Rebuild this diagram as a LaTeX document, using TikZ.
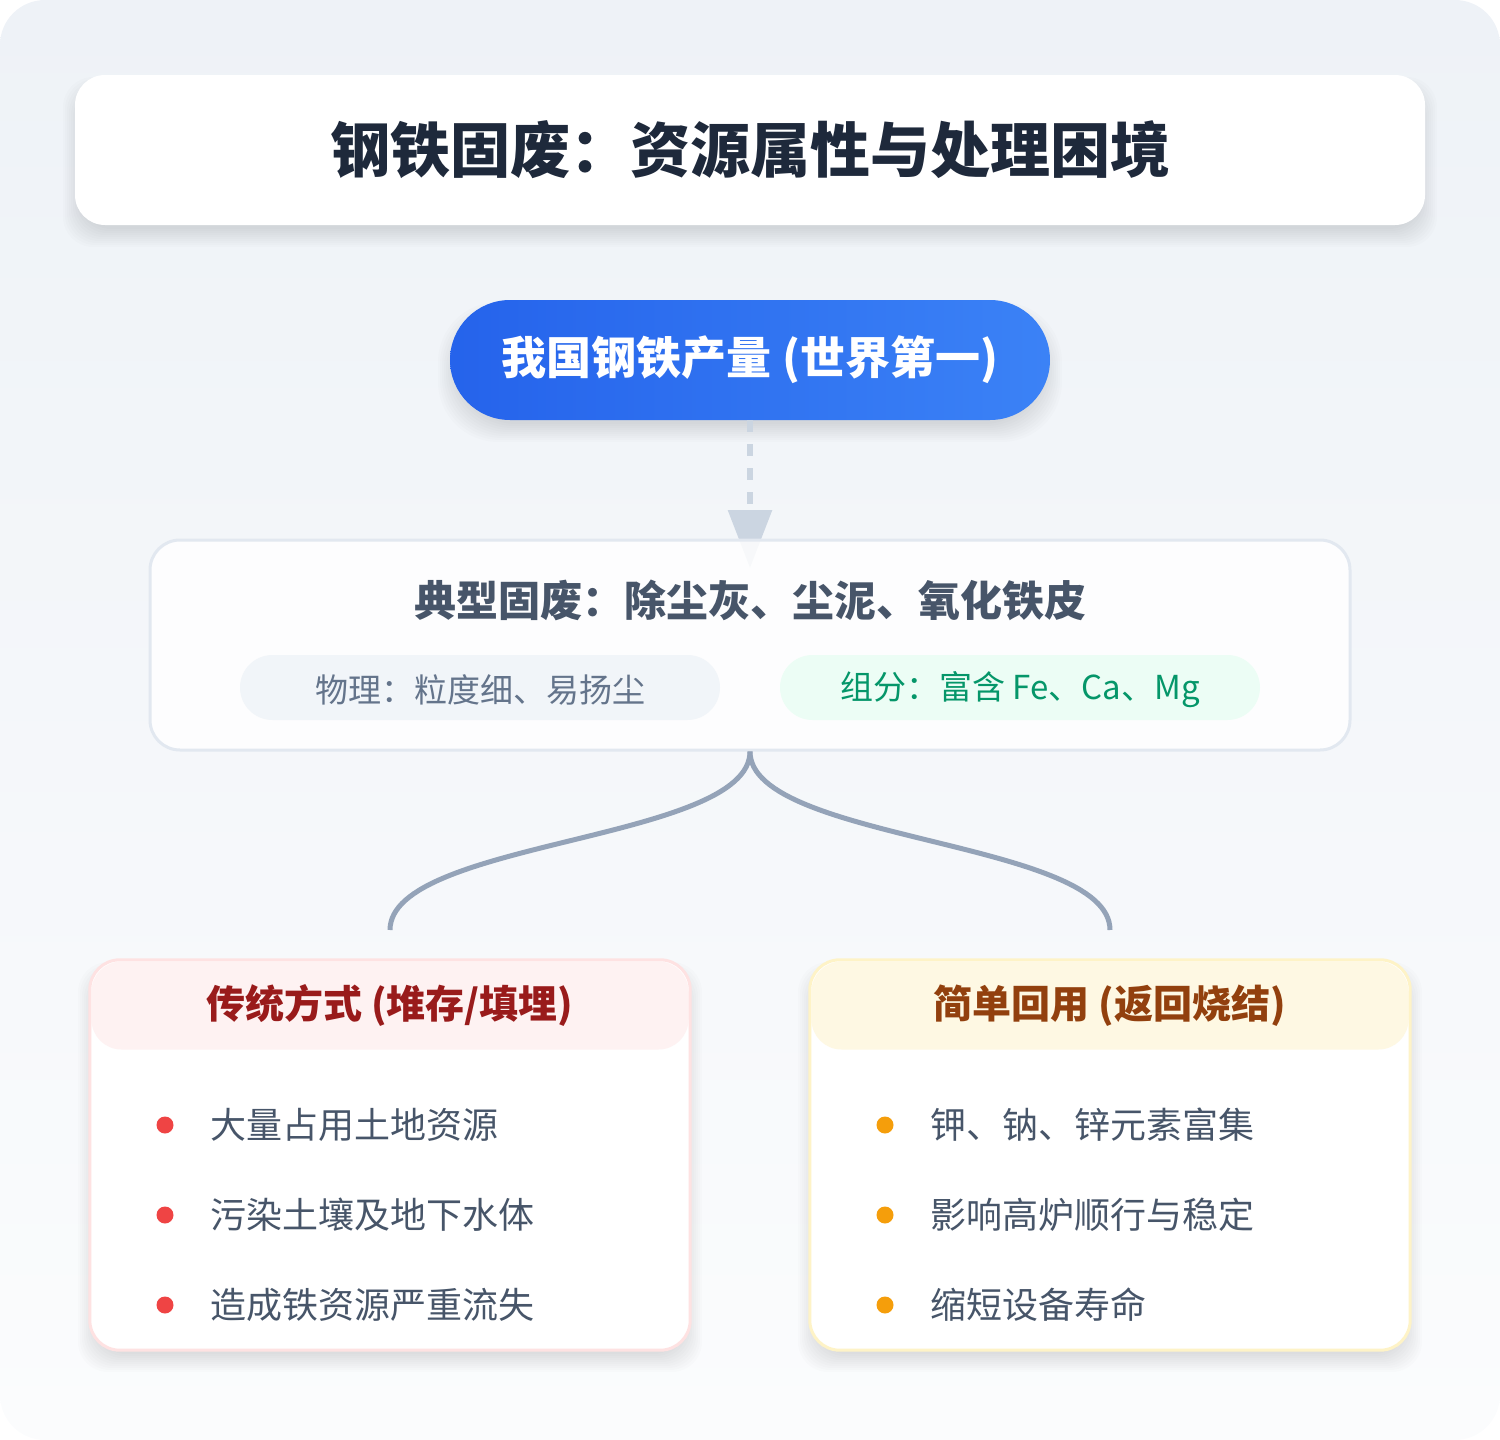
\documentclass[tikz,border=0pt]{standalone}
\usepackage{fontspec}
\setmainfont{Noto Sans CJK SC}
\usetikzlibrary{arrows.meta}
\definecolor{bgtop}{HTML}{EEF2F7}
\definecolor{bgbot}{HTML}{FBFCFD}
\definecolor{titletxt}{HTML}{1E293B}
\definecolor{blueA}{HTML}{2563EB}
\definecolor{blueB}{HTML}{3B82F6}
\definecolor{midtxt}{HTML}{475569}
\definecolor{midborder}{HTML}{E2E8F0}
\definecolor{phystxt}{HTML}{64748B}
\definecolor{physfill}{HTML}{F1F5F9}
\definecolor{comptxt}{HTML}{059669}
\definecolor{compfill}{HTML}{ECFDF5}
\definecolor{branchcol}{HTML}{94A3B8}
\definecolor{arrowcol}{HTML}{CBD5E1}
\definecolor{redborder}{HTML}{FEE2E2}
\definecolor{redfill}{HTML}{FEF2F2}
\definecolor{redtxt}{HTML}{991B1B}
\definecolor{reddot}{HTML}{EF4444}
\definecolor{ambborder}{HTML}{FEF3C7}
\definecolor{ambfill}{HTML}{FEF8E3}
\definecolor{ambtxt}{HTML}{92400E}
\definecolor{ambdot}{HTML}{F59E0B}
\newcommand\mysoftshadow[5]{%
  \foreach \k in {0,2,...,18}{%
    \fill[black,opacity=0.011,rounded corners=#5]
      (#1-12+\k,#2+2+\k) rectangle (#3+12-\k,#4+22-\k);
  }}
\tikzset{
  card/.style={inner sep=0pt, rounded corners=30pt},
  titlecard/.style={card, fill=white, minimum width=1350pt, minimum height=150pt,
    text=titletxt, font=\fontsize{60}{72}\selectfont\bfseries},
  srcpill/.style={inner sep=0pt, rounded corners=60pt, minimum width=600pt, minimum height=120pt,
    left color=blueA, right color=blueB, text=white, font=\fontsize{45}{54}\selectfont\bfseries},
  midbox/.style={card, draw=midborder, line width=3pt, fill=white, fill opacity=0.85,
    minimum width=1200pt, minimum height=210pt},
  midhead/.style={inner sep=0pt, text=midtxt, font=\fontsize{42}{50}\selectfont\bfseries},
  subpill/.style={inner sep=0pt, rounded corners=32.5pt, minimum width=480pt, minimum height=65pt},
  subtext/.style={inner sep=0pt, font=\fontsize{33}{40}\selectfont},
  dashline/.style={draw=arrowcol, line width=6pt, dash pattern=on 12pt off 12pt,
    -{Triangle[length=58pt,width=43pt]}},
  branch/.style={draw=branchcol, line width=5pt},
  bigcard/.style={card, fill=white, minimum width=600pt, minimum height=390pt},
  headband/.style={card, minimum width=597pt, minimum height=88pt, font=\fontsize{39}{46}\selectfont\bfseries},
  dot/.style={circle, inner sep=0pt, minimum size=17pt},
  item/.style={inner sep=0pt, anchor=west, text=midtxt, font=\fontsize{36}{44}\selectfont},
}
\begin{document}
\begin{tikzpicture}[x=1pt,y=-1pt]
\useasboundingbox (0,0) rectangle (1500,1440);
% background
\shade[top color=bgtop, bottom color=bgbot, rounded corners=45pt] (0,0) rectangle (1500,1440);
% shadows
\mysoftshadow{75}{75}{1425}{225}{30pt}
\mysoftshadow{450}{300}{1050}{420}{60pt}
\mysoftshadow{90}{960}{690}{1350}{30pt}
\mysoftshadow{810}{960}{1410}{1350}{30pt}
% title
\node[titlecard] (title) at (750,150) {钢铁固废：资源属性与处理困境};
% source pill
\node[srcpill] (src) at (750,360) {我国钢铁产量 (世界第一)};
% arrow
\coordinate (arrowend) at (750,568);
\draw[dashline] (src.south) -- (arrowend);
% middle box
\node[midbox] (mid) at (750,645) {};
\node[midhead] (midh) at (750,600) {典型固废：除尘灰、尘泥、氧化铁皮};
\node[subpill, fill=physfill] (phys) at (480,687.5) {};
\node[subtext, text=phystxt] (physt) at (480,690) {物理：粒度细、易扬尘};
\node[subpill, fill=compfill] (comp) at (1020,687.5) {};
\node[subtext, text=comptxt] (compt) at (1020,690) {组分：富含 Fe、Ca、Mg};
% branches
\coordinate (ltop) at (390,930);
\coordinate (rtop) at (1110,930);
\draw[branch] (mid.south) .. controls ([yshift=-90pt]mid.south) and ([yshift=90pt]ltop) .. (ltop);
\draw[branch] (mid.south) .. controls ([yshift=-90pt]mid.south) and ([yshift=90pt]rtop) .. (rtop);
% left card
\node[bigcard] (lcard) at (390,1155) {};
\node[headband, fill=redfill, text=redtxt] (lhead) at (390,1005.5) {传统方式 (堆存/填埋)};
\draw[redborder, line width=3pt, rounded corners=30pt] (lcard.south west) rectangle (lcard.north east);
\node[dot, fill=reddot] (l1) at (165,1125) {};
\node[dot, fill=reddot] (l2) at (165,1215) {};
\node[dot, fill=reddot] (l3) at (165,1305) {};
\node[item] (l1t) at (210,1125) {大量占用土地资源};
\node[item] (l2t) at (210,1215) {污染土壤及地下水体};
\node[item] (l3t) at (210,1305) {造成铁资源严重流失};
% right card
\node[bigcard] (rcard) at (1110,1155) {};
\node[headband, fill=ambfill, text=ambtxt] (rhead) at (1110,1005.5) {简单回用 (返回烧结)};
\draw[ambborder, line width=3pt, rounded corners=30pt] (rcard.south west) rectangle (rcard.north east);
\node[dot, fill=ambdot] (r1) at (885,1125) {};
\node[dot, fill=ambdot] (r2) at (885,1215) {};
\node[dot, fill=ambdot] (r3) at (885,1305) {};
\node[item] (r1t) at (930,1125) {钾、钠、锌元素富集};
\node[item] (r2t) at (930,1215) {影响高炉顺行与稳定};
\node[item] (r3t) at (930,1305) {缩短设备寿命};
\end{tikzpicture}
\end{document}
